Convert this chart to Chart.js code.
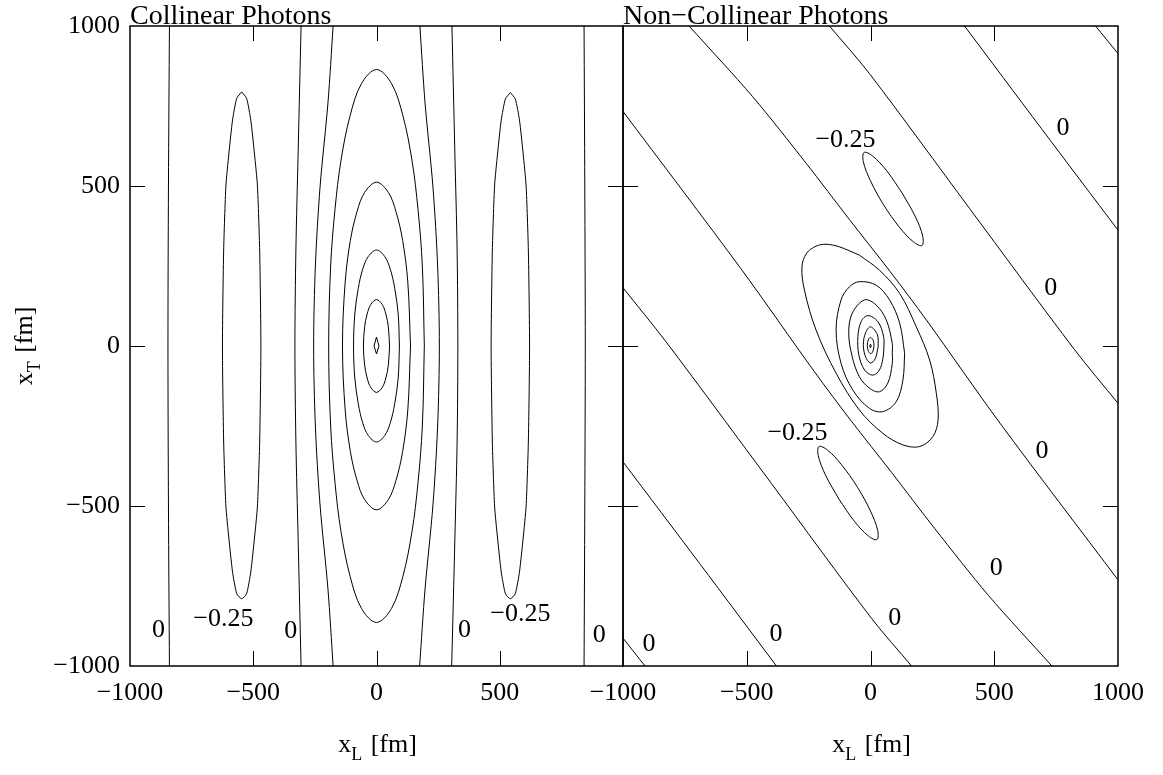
<!DOCTYPE html>
<html><head><meta charset="utf-8">
<script src="https://cdn.jsdelivr.net/npm/chart.js@4/dist/chart.umd.min.js"></script>
<style>
html,body{margin:0;padding:0;background:#fff;}
#wrap{position:relative;width:1163px;height:775px;overflow:hidden;background:#fff;}
canvas{position:absolute;top:0;}
#c1{left:0;} #c2{left:560px;}
</style></head><body>
<div id="wrap"><canvas id="c1" width="640" height="775"></canvas><canvas id="c2" width="603" height="775"></canvas></div>
<script>
// ---------- tick values ----------
const axisTicks = [-1000, -500, 0, 500, 1000];
const innerTicks = [-500, 0, 500];

// ---------- Collinear panel contours [x_L, x_T] in fm ----------
const colZeroFarLeft  = [[-840,1000],[-844,500],[-846,0],[-844,-500],[-840,-1000]];
const colZeroFarRight = [[842,1000],[845,500],[847,0],[845,-500],[842,-1000]];
const colZeroMidLeft  = [[-306,1000],[-318,600],[-327,300],[-331,0],[-327,-300],[-318,-600],[-306,-1000]];
const colZeroMidRight = [[306,1000],[318,600],[327,300],[330,0],[327,-300],[318,-600],[305,-1000]];
const colOpenLeft  = [[-176,1000],[-197,759],[-229,497],[-248,250],[-255,0],[-248,-250],[-229,-497],[-197,-759],[-176,-1000]];
const colOpenRight = [[176,1000],[197,759],[229,497],[248,250],[255,0],[248,-250],[229,-497],[197,-759],[175,-1000]];
const colRingD = [[194,0],[186,-250],[168,-430],[144,-580],[107,-720],[61,-820],[0,-864],[-61,-820],[-107,-720],[-144,-580],[-168,-430],[-186,-250],[-194,0],[-186,250],[-168,430],[-144,580],[-107,720],[-61,820],[0,864],[61,820],[107,720],[144,580],[168,430],[186,250],[194,0]];
const colRingC = [[138,0],[127,-200],[106,-330],[79,-420],[48,-480],[0,-512],[-48,-480],[-79,-420],[-106,-330],[-127,-200],[-138,0],[-127,200],[-106,330],[-79,420],[-48,480],[0,512],[48,480],[79,420],[106,330],[127,200],[138,0]];
const colRingB = [[93,0],[88,-100],[74,-180],[56,-240],[33,-280],[0,-300],[-33,-280],[-56,-240],[-74,-180],[-88,-100],[-93,0],[-88,100],[-74,180],[-56,240],[-33,280],[0,300],[33,280],[56,240],[74,180],[88,100],[93,0]];
const colRingA = [[53,0],[48,-60],[38,-100],[23,-130],[0,-145],[-23,-130],[-38,-100],[-48,-60],[-53,0],[-48,60],[-38,100],[-23,130],[0,145],[23,130],[38,100],[48,60],[53,0]];
const colDiamond = [[0,28],[10,0],[0,-25],[-10,0],[0,28]];
const colNegLeft = [[-547,794],[-527,774],[-510,706],[-495,600],[-483,500],[-474,300],[-469,0],[-474,-300],[-483,-500],[-495,-600],[-510,-706],[-527,-774],[-547,-790],[-567,-774],[-584,-706],[-599,-600],[-611,-500],[-620,-300],[-625,0],[-620,300],[-611,500],[-599,600],[-584,706],[-567,774],[-547,794]];
const colNegRight = [[543,792],[563,772],[580,706],[595,600],[607,500],[616,300],[621,0],[616,-300],[607,-500],[595,-600],[580,-706],[563,-774],[543,-790],[523,-774],[506,-706],[491,-600],[479,-500],[470,-300],[465,0],[470,300],[479,500],[491,600],[506,706],[523,772],[543,792]];
const colLabels = [
  {t:'0', x:-884, y:-887}, {t:'\u22120.25', x:-621, y:-853}, {t:'0', x:-348, y:-892},
  {t:'0', x:357, y:-887}, {t:'\u22120.25', x:584, y:-837}, {t:'0', x:904, y:-905}
];

// ---------- Non-collinear panel contours ----------
const ncZero1 = [[909,1000],[1000,914]];
const ncZero2 = [[380,1000],[690,680],[1000,362]];
const ncZero3 = [[-166,1000],[-4,851],[400,430],[825,-12],[1000,-179]];
const ncZero4 = [[-733,1000],[-476,779],[-260,571],[-85,395],[80,232],[226,81],[523,-241],[1000,-731]];
const ncZero5 = [[-1000,733],[-523,241],[-226,-81],[-80,-232],[85,-395],[260,-571],[476,-779],[733,-1000]];
const ncZero6 = [[-1000,182],[-825,12],[-400,-430],[4,-851],[166,-1000]];
const ncZero7 = [[-1000,-362],[-690,-680],[-380,-1000]];
const ncZero8 = [[-1000,-913],[-911,-1000]];
const ncNegUp = [[128,478],[65,548],[8,594],[-26,605],[-29,576],[0,516],[53,441],[117,371],[174,325],[208,314],[211,343],[182,403],[128,478]];
const ncNegDown = [[-128,-478],[-65,-548],[-8,-594],[26,-605],[29,-576],[0,-516],[-53,-441],[-117,-371],[-174,-325],[-208,-314],[-211,-343],[-182,-403],[-128,-478]];
const ncLoop1 = [[-45,284],[36,237],[118,164],[185,60],[239,-44],[266,-148],[273,-231],[252,-283],[199,-314],[131,-309],[50,-273],[-45,-200],[-139,-85],[-220,50],[-267,175],[-277,248],[-258,290],[-220,312],[-180,318],[-126,310],[-45,284]];
const ncLoop2 = [[138,-23],[131,-106],[104,-174],[50,-205],[-4,-195],[-72,-137],[-119,-54],[-139,50],[-119,144],[-85,185],[-45,201],[23,190],[77,144],[118,71],[138,-23]];
const ncLoop3 = [[88,-20],[88,-54],[70,-116],[36,-143],[-4,-132],[-45,-96],[-74,-33],[-88,40],[-74,102],[-24,144],[23,128],[64,81],[88,8],[88,-20]];
const ncLoop4 = [[54,-10],[50,-40],[36,-75],[9,-91],[-24,-75],[-47,-28],[-51,29],[-38,76],[-11,95],[30,76],[53,29],[54,-10]];
const ncLoop5 = [[31,-2],[19,-40],[0,-53],[-20,-34],[-29,4],[-20,41],[0,60],[28,35],[31,-2]];
const ncLoop6 = [[14,-1],[9,-18],[0,-24],[-9,-15],[-13,2],[-9,19],[0,27],[12,16],[14,-1]];
const ncDot = [[0,6],[3,0],[0,-6],[-3,0],[0,6]];
const ncLabels = [
  {t:'\u22120.25', x:-101, y:643}, {t:'\u22120.25', x:-295, y:-273},
  {t:'0', x:778, y:680}, {t:'0', x:728, y:180}, {t:'0', x:693, y:-330},
  {t:'0', x:508, y:-694}, {t:'0', x:98, y:-850}, {t:'0', x:-382, y:-902}, {t:'0', x:-895, y:-933}
];

// ---------- helpers ----------
const FONT = 'Liberation Serif';
const fmt = v => v < 0 ? '\u2212' + Math.abs(v) : String(v);
function ds(arr, tension) {
  return { data: arr.map(p => ({x: p[0], y: p[1]})), showLine: true, borderColor: '#000',
           borderWidth: 1, pointRadius: 0, pointHoverRadius: 0, fill: false, tension: tension };
}
function drawSub(ctx, base, sub, rest, cx, baseline) {
  ctx.font = '26px "' + FONT + '"'; const w1 = ctx.measureText(base).width; const w3 = ctx.measureText(rest).width;
  ctx.font = '18px "' + FONT + '"'; const w2 = ctx.measureText(sub).width;
  let x0 = cx - (w1 + w2 + w3) / 2;
  ctx.textAlign = 'left'; ctx.textBaseline = 'alphabetic';
  ctx.font = '26px "' + FONT + '"'; ctx.fillText(base, x0, baseline);
  ctx.font = '18px "' + FONT + '"'; ctx.fillText(sub, x0 + w1, baseline + 8);
  ctx.font = '26px "' + FONT + '"'; ctx.fillText(rest, x0 + w1 + w2 + 2, baseline);
}
function decor(cfg) {
  return {
    id: 'decor',
    afterDraw(chart) {
      const {ctx, chartArea: a} = chart; const sx = chart.scales.x, sy = chart.scales.y;
      ctx.save();
      ctx.strokeStyle = '#000'; ctx.fillStyle = '#000';
      ctx.lineWidth = 1.5;
      ctx.strokeRect(a.left, a.top, a.right - a.left, a.bottom - a.top);
      ctx.lineWidth = 1;
      ctx.beginPath();
      for (const v of innerTicks) {
        const px = Math.round(sx.getPixelForValue(v)) + 0.5;
        ctx.moveTo(px, a.bottom); ctx.lineTo(px, a.bottom - 15);
        ctx.moveTo(px, a.top); ctx.lineTo(px, a.top + 15);
        const py = Math.round(sy.getPixelForValue(v)) + 0.5;
        ctx.moveTo(a.left, py); ctx.lineTo(a.left + 15, py);
        ctx.moveTo(a.right, py); ctx.lineTo(a.right - 15, py);
      }
      ctx.stroke();
      ctx.font = '26px "' + FONT + '"'; ctx.textAlign = 'center'; ctx.textBaseline = 'middle';
      for (const l of cfg.labels) ctx.fillText(l.t, sx.getPixelForValue(l.x), sy.getPixelForValue(l.y));
      ctx.font = '28px "' + FONT + '"'; ctx.textAlign = 'left'; ctx.textBaseline = 'alphabetic';
      ctx.fillText(cfg.title, a.left, a.top - 2.5);
      drawSub(ctx, 'x', 'L', ' [fm]', (a.left + a.right) / 2, 752);
      if (cfg.ytitle) {
        ctx.translate(32, 347); ctx.rotate(-Math.PI / 2);
        drawSub(ctx, 'x', 'T', ' [fm]', 0, 0);
      }
      ctx.restore();
    }
  };
}
function makeChart(id, datasets, cfg) {
  return new Chart(document.getElementById(id), {
    type: 'scatter',
    data: { datasets: datasets },
    options: {
      responsive: false, animation: false, devicePixelRatio: 1,
      layout: { padding: cfg.padding },
      plugins: { legend: {display: false}, tooltip: {enabled: false}, title: {display: false} },
      events: [],
      scales: {
        x: {
          type: 'linear', min: -1000, max: 1000, position: 'bottom',
          afterFit: s => { s.height = 109; },
          afterBuildTicks: s => { s.ticks = axisTicks.map(v => ({value: v})); },
          grid: { display: false, drawTicks: false }, border: { display: false },
          ticks: { autoSkip: false, maxRotation: 0, padding: 12, color: '#000',
                   font: {family: FONT, size: 26}, callback: cfg.xcb }
        },
        y: {
          type: 'linear', min: -1000, max: 1000, position: 'left', display: cfg.showY,
          afterFit: s => { s.width = cfg.showY ? 130 : 0; },
          afterBuildTicks: s => { s.ticks = axisTicks.map(v => ({value: v})); },
          grid: { display: false, drawTicks: false }, border: { display: false },
          ticks: { autoSkip: false, padding: 10, color: '#000',
                   font: {family: FONT, size: 26}, callback: v => fmt(v) }
        }
      }
    },
    plugins: [decor(cfg)]
  });
}

const colSets = [
  ds(colZeroFarLeft, 0.3), ds(colZeroFarRight, 0.3), ds(colZeroMidLeft, 0.3), ds(colZeroMidRight, 0.3),
  ds(colOpenLeft, 0.3), ds(colOpenRight, 0.3), ds(colRingD, 0.35), ds(colRingC, 0.35), ds(colRingB, 0.35),
  ds(colRingA, 0.35), ds(colDiamond, 0), ds(colNegLeft, 0.2), ds(colNegRight, 0.2)
];
const ncSets = [
  ds(ncZero1, 0.3), ds(ncZero2, 0.3), ds(ncZero3, 0.3), ds(ncZero4, 0.3), ds(ncZero5, 0.3), ds(ncZero6, 0.3),
  ds(ncZero7, 0.3), ds(ncZero8, 0.3), ds(ncNegUp, 0.35), ds(ncNegDown, 0.35),
  ds(ncLoop1, 0.35), ds(ncLoop2, 0.35), ds(ncLoop3, 0.35), ds(ncLoop4, 0.35), ds(ncLoop5, 0.35),
  ds(ncLoop6, 0.35), ds(ncDot, 0)
];

makeChart('c1', colSets, {
  padding: {left: 0, right: 17, top: 26, bottom: 0}, showY: true, ytitle: true,
  title: 'Collinear Photons', labels: colLabels,
  xcb: v => (v === 1000 ? '' : fmt(v))
});
makeChart('c2', ncSets, {
  padding: {left: 63, right: 45, top: 26, bottom: 0}, showY: false, ytitle: false,
  title: 'Non\u2212Collinear Photons', labels: ncLabels,
  xcb: v => fmt(v)
});
</script>
</body></html>
